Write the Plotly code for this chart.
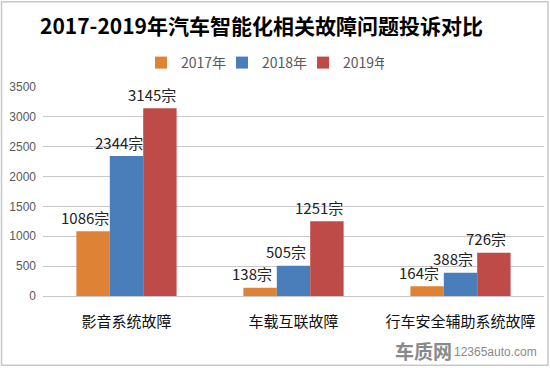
import plotly.graph_objects as go

categories = ["影音系统故障", "车载互联故障", "行车安全辅助系统故障"]
series_names = ["2017年", "2018年", "2019年"]
values_2017 = [1086, 138, 164]
values_2018 = [2344, 505, 388]
values_2019 = [3145, 1251, 726]
y_ticks = [0, 500, 1000, 1500, 2000, 2500, 3000, 3500]

all_values = [values_2017, values_2018, values_2019]
colors = ["#DE8336", "#4A7EBB", "#BE4B48"]
FONT = "Noto Sans CJK SC, Microsoft YaHei, sans-serif"

dom_l, dom_r, dom_t, dom_b = 43, 544, 87, 296.5
W, H = 550, 368

def px_x(p):
    return (p - dom_l) / (dom_r - dom_l)

def px_y(p):
    return (dom_b - p) / (dom_b - dom_t)

fig = go.Figure()
for name, vals, col in zip(series_names, all_values, colors):
    fig.add_trace(go.Bar(x=categories, y=vals, name=name, marker_color=col,
                         marker_line_width=0))

bar_px = (dom_r - dom_l) / 3 * 0.6 / 3
annotations = []
for i, vals in enumerate(all_values):
    for cat, v in zip(categories, vals):
        annotations.append(dict(
            x=cat, y=v, xref="x", yref="y", text=f"{v}宗", showarrow=False,
            xshift=(i - 1) * bar_px - 8, yshift=14, yanchor="middle",
            font=dict(family=FONT, size=15, color="#222222")))

annotations.append(dict(x=px_x(423), y=px_y(351), xref="paper", yref="paper",
                        text="<b>车质网</b>", showarrow=False, xanchor="center", yanchor="middle",
                        font=dict(family=FONT, size=19, color="#8a8a8a")))
annotations.append(dict(x=px_x(495), y=px_y(353), xref="paper", yref="paper",
                        text="12365auto.com", showarrow=False, xanchor="center", yanchor="middle",
                        font=dict(family="Arial, Liberation Sans, sans-serif", size=12, color="#8a8a8a")))

fig.update_layout(
    template="none",
    width=W, height=H,
    margin=dict(l=dom_l, r=W - dom_r, t=dom_t, b=H - dom_b, autoexpand=False),
    paper_bgcolor="white", plot_bgcolor="white",
    barmode="group", bargap=0.4, bargroupgap=0,
    title=dict(text="<b>2017-2019年汽车智能化相关故障问题投诉对比</b>",
               x=261.5 / W, y=1 - 27 / H, xref="container", yref="container",
               xanchor="center", yanchor="middle",
               font=dict(family=FONT, size=21, color="#000000")),
    legend=dict(orientation="h", x=262.5 / W, y=1 - 63 / H,
                xref="container", yref="container",
                xanchor="center", yanchor="middle",
                font=dict(family=FONT, size=14, color="#595959"),
                itemwidth=30, entrywidth=36, entrywidthmode="pixels",
                traceorder="normal"),
    xaxis=dict(showline=True, linecolor="#c8c8c8", linewidth=1, ticks="",
               tickfont=dict(family=FONT, size=15, color="#111111"),
               ticklabelstandoff=12, showgrid=False, zeroline=False),
    yaxis=dict(range=[0, 3500], tickvals=y_ticks, showgrid=True, gridcolor="#c8c8c8",
               gridwidth=1, zeroline=False, ticks="", showline=False,
               tickfont=dict(family="Arial, Liberation Sans, sans-serif", size=12, color="#595959"),
               ticklabelstandoff=6),
    annotations=annotations,
    shapes=[dict(type="rect", xref="paper", yref="paper",
                 x0=px_x(1.5), x1=px_x(548), y0=px_y(366), y1=px_y(1.5),
                 line=dict(color="#c8c8c8", width=1.5))],
)

fig.write_html("out.html", post_script="document.body.style.margin='0px';",
               config={"displayModeBar": False})
